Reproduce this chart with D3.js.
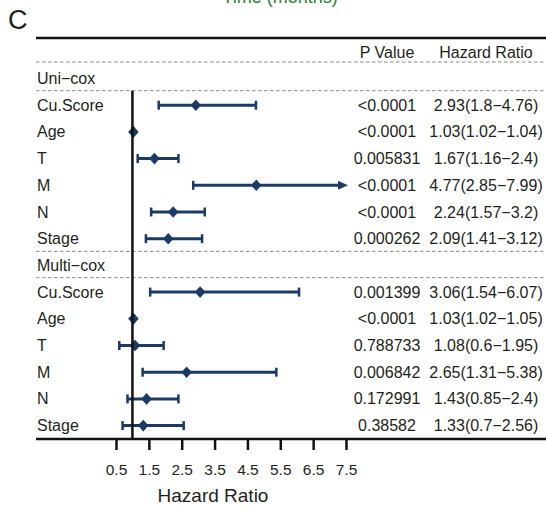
<!DOCTYPE html>
<html>

<head>
  <title>ForestPlot</title>
  <script src="https://cdn.jsdelivr.net/npm/d3@7"></script>
  <style>
    body { margin: 0; background: #fff; }
    text { font-family: "Liberation Sans", Arial, sans-serif; }
  </style>
</head>

<body>
  <svg width="546" height="508" id="mainsvg"></svg>
  <script>
    // data
    const groups = ['Uni\u2212cox', 'Multi\u2212cox'];
    const variables = ['Cu.Score', 'Age', 'T', 'M', 'N', 'Stage'];
    const uniHR = [2.93, 1.03, 1.67, 4.77, 2.24, 2.09];
    const uniLower = [1.8, 1.02, 1.16, 2.85, 1.57, 1.41];
    const uniUpper = [4.76, 1.04, 2.4, 7.99, 3.2, 3.12];
    const uniP = ['<0.0001', '<0.0001', '0.005831', '<0.0001', '<0.0001', '0.000262'];
    const multiHR = [3.06, 1.03, 1.08, 2.65, 1.43, 1.33];
    const multiLower = [1.54, 1.02, 0.6, 1.31, 0.85, 0.7];
    const multiUpper = [6.07, 1.05, 1.95, 5.38, 2.4, 2.56];
    const multiP = ['0.001399', '<0.0001', '0.788733', '0.006842', '0.172991', '0.38582'];
    const xTicks = [0.5, 1.5, 2.5, 3.5, 4.5, 5.5, 6.5, 7.5];

    const svg = d3.select('#mainsvg');
    const width = +svg.attr('width');
    const navy = '#1b3a66';
    const ink = '#231f20';
    const left = 37;

    // one row per line of the table: group title, then the six variables
    const rows = [];
    [[uniHR, uniLower, uniUpper, uniP], [multiHR, multiLower, multiUpper, multiP]].forEach((s, gi) => {
      rows.push({ label: groups[gi], group: true });
      variables.forEach((v, i) => rows.push({
        label: v, hr: s[0][i], lo: s[1][i], hi: s[2][i], p: s[3][i],
        ci: `${s[0][i]}(${s[1][i]}\u2212${s[2][i]})`
      }));
    });

    const yScale = d3.scalePoint()
      .domain(d3.range(rows.length))
      .range([78.5, 425.6]);
    const headerY = 52;
    const axisY = yScale(rows.length - 1) + 13.4;

    const xScale = d3.scaleLinear().domain([0.5, 7.5]).range([116, 346]);
    const xMax = 7.5;

    // cut off title from the panel above
    svg.append('text').attr('x', 280).attr('y', 2.5).attr('text-anchor', 'middle')
      .attr('font-size', 18).attr('fill', '#2e7d32').text('Time (months)');

    svg.append('text').attr('x', 8).attr('y', 29).attr('font-size', 27).attr('fill', ink).text('C');

    // top rule
    svg.append('line').attr('x1', left - 1).attr('x2', width).attr('y1', 38).attr('y2', 38)
      .attr('stroke', '#111').attr('stroke-width', 2.5);

    // column headers
    svg.append('text').attr('x', 387).attr('y', headerY + 5.5).attr('text-anchor', 'middle')
      .attr('font-size', 16).attr('fill', ink).text('P Value');
    svg.append('text').attr('x', 486).attr('y', headerY + 5.5).attr('text-anchor', 'middle')
      .attr('font-size', 16).attr('fill', ink).text('Hazard Ratio');

    // dashed separators
    const dashY = [headerY + 10];
    rows.forEach((r, i) => {
      if (r.group) dashY.push(yScale(i + 1) - 14.5);
      if (r.group && i > 0) dashY.push(yScale(i) - 14);
    });
    svg.selectAll('.dash').data(dashY).join('line').attr('class', 'dash')
      .attr('x1', left - 1).attr('x2', width)
      .attr('y1', d => d).attr('y2', d => d)
      .attr('stroke', '#8a8a8a').attr('stroke-width', 1).attr('stroke-dasharray', '3.5,2.5');

    // row labels
    const rowG = svg.selectAll('.row').data(rows).join('g').attr('class', 'row')
      .attr('transform', (d, i) => `translate(0, ${yScale(i)})`);
    rowG.append('text').attr('x', left).attr('y', 5.5).attr('font-size', 16).attr('fill', ink)
      .text(d => d.label);
    rowG.filter(d => !d.group).append('text').attr('x', 387).attr('y', 5.5)
      .attr('text-anchor', 'middle').attr('font-size', 16).attr('fill', ink).text(d => d.p);
    rowG.filter(d => !d.group).append('text').attr('x', 486).attr('y', 5.5)
      .attr('text-anchor', 'middle').attr('font-size', 16).attr('fill', ink).text(d => d.ci);

    // reference line at HR = 1
    svg.append('line').attr('x1', xScale(1)).attr('x2', xScale(1))
      .attr('y1', yScale(1) - 14.5).attr('y2', axisY)
      .attr('stroke', '#111').attr('stroke-width', 2.5);

    // confidence intervals
    const est = rowG.filter(d => !d.group);
    est.append('line')
      .attr('x1', d => xScale(d.lo))
      .attr('x2', d => d.hi > xMax ? xScale(xMax) - 6 : xScale(d.hi))
      .attr('stroke', navy).attr('stroke-width', 3);
    est.append('line').attr('x1', d => xScale(d.lo)).attr('x2', d => xScale(d.lo))
      .attr('y1', -4.5).attr('y2', 4.5).attr('stroke', navy).attr('stroke-width', 2.5);
    est.filter(d => d.hi <= xMax).append('line')
      .attr('x1', d => xScale(d.hi)).attr('x2', d => xScale(d.hi))
      .attr('y1', -4.5).attr('y2', 4.5).attr('stroke', navy).attr('stroke-width', 2.5);
    est.filter(d => d.hi > xMax).append('path')
      .attr('d', () => {
        const t = xScale(xMax) + 2;
        return `M${t},0L${t - 10},-4.5L${t - 10},4.5Z`;
      })
      .attr('fill', navy);
    est.append('path')
      .attr('d', d => {
        const c = xScale(d.hr);
        return `M${c},-5.8L${c + 5.3},0L${c},5.8L${c - 5.3},0Z`;
      })
      .attr('fill', navy);

    // bottom axis
    svg.append('line').attr('x1', left - 1).attr('x2', width).attr('y1', axisY).attr('y2', axisY)
      .attr('stroke', '#111').attr('stroke-width', 2.5);
    const axis = svg.append('g').attr('transform', `translate(0, ${axisY})`)
      .call(d3.axisBottom(xScale).tickValues(xTicks).tickSize(11).tickPadding(14)
        .tickFormat(d3.format('.1f')));
    axis.select('.domain').remove();
    axis.selectAll('.tick line').attr('stroke', '#111').attr('stroke-width', 2.5);
    axis.selectAll('.tick text').attr('font-size', 15.5).attr('fill', ink)
      .attr('font-family', '"Liberation Sans", Arial, sans-serif');

    svg.append('text').attr('x', 213).attr('y', 502).attr('text-anchor', 'middle')
      .attr('font-size', 19).attr('fill', ink).text('Hazard Ratio');
  </script>
</body>

</html>
